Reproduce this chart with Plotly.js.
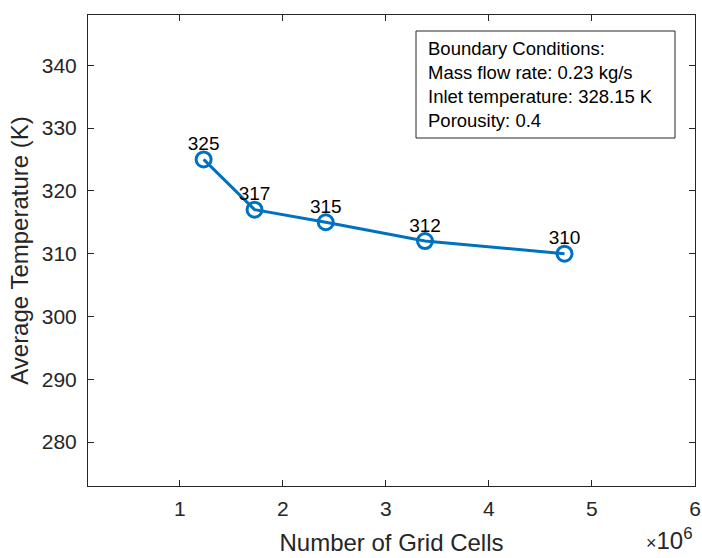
<!DOCTYPE html>
<html><head><meta charset="utf-8">
<script src="https://cdn.plot.ly/plotly-3.0.1.min.js"></script>
<style>html,body{margin:0;padding:0;background:#fff}#chart{width:702px;height:558px}</style>
</head><body><div id="chart"></div>
<script>
const gridCells = [1.232e6, 1.726e6, 2.417e6, 3.38e6, 4.734e6];
const avgTemp = [325, 317, 315, 312, 310];
const pointLabels = ['325', '317', '315', '312', '310'];
const xTickVals = [1e6, 2e6, 3e6, 4e6, 5e6, 6e6];
const xTickText = ['1', '2', '3', '4', '5', '6'];
const yTickVals = [280, 290, 300, 310, 320, 330, 340];
const boxLines = ['Boundary Conditions:', 'Mass flow rate: 0.23 kg/s', 'Inlet temperature: 328.15 K', 'Porousity: 0.4'];

const font = 'Liberation Sans, Arial, sans-serif';
const L = 88, T = 15, W = 607, H = 471;
const px = v => (v - L) / W;
const py = v => 1 - (v - T) / H;

const lineTrace = {
  x: gridCells, y: avgTemp, mode: 'lines+markers', type: 'scatter',
  line: {color: '#0072BD', width: 3},
  marker: {symbol: 'circle-open', size: 15, color: '#0072BD', line: {width: 3, color: '#0072BD'}},
  hoverinfo: 'skip'
};
const labelTrace = {
  x: gridCells, y: avgTemp, mode: 'markers+text', type: 'scatter',
  text: pointLabels, textposition: 'top center',
  textfont: {family: font, size: 19, color: '#000'},
  marker: {size: 6, color: 'rgba(0,0,0,0)'},
  cliponaxis: false, hoverinfo: 'skip'
};
const axisCommon = {
  showgrid: false, zeroline: false, showline: true, linecolor: '#262626', linewidth: 1,
  mirror: 'ticks', ticks: 'inside', ticklen: 6, tickcolor: '#262626',
  tickfont: {family: font, size: 21, color: '#262626'}
};
const layout = {
  width: 702, height: 558,
  margin: {l: 88, r: 7, t: 15, b: 72},
  paper_bgcolor: '#fff', plot_bgcolor: '#fff', showlegend: false,
  xaxis: Object.assign({}, axisCommon, {
    range: [0.11e6, 6e6], tickvals: xTickVals, ticktext: xTickText, ticklabelstandoff: 4,
    title: {text: 'Number of Grid Cells', font: {family: font, size: 24, color: '#262626'}, standoff: 14}
  }),
  yaxis: Object.assign({}, axisCommon, {
    range: [273, 348], tickvals: yTickVals, ticklabelstandoff: 6,
    title: {text: 'Average Temperature (K)', font: {family: font, size: 24, color: '#262626'}, standoff: 6}
  }),
  shapes: [
    {type: 'rect', xref: 'paper', yref: 'paper', x0: px(416), x1: px(675), y0: py(31), y1: py(138),
     line: {color: '#262626', width: 1}, fillcolor: '#fff', layer: 'above'}
  ],
  annotations: [
    {xref: 'paper', yref: 'paper', x: 1.0, y: 0, xanchor: 'right', yanchor: 'top', yshift: -36,
     text: '<span style="font-size:18px">×</span>10<sup>6</sup>', showarrow: false,
     font: {family: font, size: 24, color: '#262626'}},
    {xref: 'paper', yref: 'paper', x: px(426), y: py(36), xanchor: 'left', yanchor: 'top',
     text: boxLines.join('<br>'), align: 'left', showarrow: false,
     font: {family: font, size: 18.5, color: '#000'}}
  ]
};
Plotly.newPlot('chart', [lineTrace, labelTrace], layout, {displayModeBar: false, staticPlot: true});
</script></body></html>
